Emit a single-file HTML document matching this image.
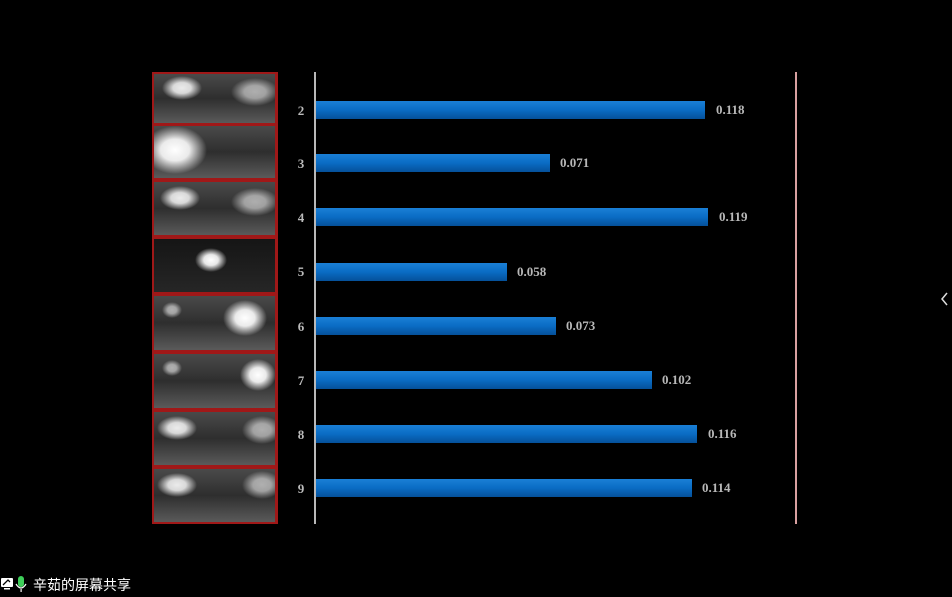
<!DOCTYPE html>
<html><head><meta charset="utf-8"><style>
html,body{margin:0;padding:0;background:#000;width:952px;height:597px;overflow:hidden}
svg{display:block}
</style></head><body>
<svg width="952" height="597" viewBox="0 0 952 597" xmlns="http://www.w3.org/2000/svg">
<defs>
<radialGradient id="blob"><stop offset="0" stop-color="#fff" stop-opacity="1"/><stop offset="0.45" stop-color="#fff" stop-opacity="0.9"/><stop offset="1" stop-color="#fff" stop-opacity="0"/></radialGradient>
<linearGradient id="bar" x1="0" y1="0" x2="0" y2="1"><stop offset="0" stop-color="#1a7fd6"/><stop offset="0.5" stop-color="#0a6cc4"/><stop offset="1" stop-color="#05509a"/></linearGradient>
<linearGradient id="fr" x1="0" y1="0" x2="0" y2="1"><stop offset="0" stop-color="#4a4a4a"/><stop offset="0.5" stop-color="#2e2e2e"/><stop offset="1" stop-color="#5a5a5a"/></linearGradient>
<linearGradient id="frd" x1="0" y1="0" x2="0" y2="1"><stop offset="0" stop-color="#151515"/><stop offset="1" stop-color="#262626"/></linearGradient>
<clipPath id="cp"><rect x="154" y="74" width="121" height="448"/></clipPath>
</defs>
<rect width="952" height="597" fill="#000"/>
<g>
<rect x="152" y="72" width="126" height="452" fill="#a01818"/>
<rect x="154" y="74" width="121" height="49" fill="url(#fr)"/>
<rect x="154" y="126" width="121" height="52" fill="url(#fr)"/>
<rect x="154" y="182" width="121" height="53" fill="url(#fr)"/>
<rect x="154" y="239" width="121" height="53" fill="url(#frd)"/>
<rect x="154" y="296" width="121" height="54" fill="url(#fr)"/>
<rect x="154" y="354" width="121" height="54" fill="url(#fr)"/>
<rect x="154" y="412" width="121" height="53" fill="url(#fr)"/>
<rect x="154" y="469" width="121" height="53" fill="url(#fr)"/>
<g clip-path="url(#cp)">
<ellipse cx="182" cy="88" rx="20" ry="12" fill="url(#blob)" opacity="0.9"/>
<ellipse cx="255" cy="92" rx="24" ry="14" fill="url(#blob)" opacity="0.6"/>
<ellipse cx="175" cy="150" rx="32" ry="24" fill="url(#blob)"/>
<ellipse cx="180" cy="198" rx="20" ry="12" fill="url(#blob)" opacity="0.9"/>
<ellipse cx="255" cy="202" rx="24" ry="14" fill="url(#blob)" opacity="0.6"/>
<ellipse cx="211" cy="260" rx="16" ry="12" fill="url(#blob)"/>
<ellipse cx="245" cy="318" rx="22" ry="18" fill="url(#blob)"/>
<ellipse cx="172" cy="310" rx="10" ry="8" fill="url(#blob)" opacity="0.6"/>
<ellipse cx="258" cy="375" rx="18" ry="16" fill="url(#blob)"/>
<ellipse cx="172" cy="368" rx="10" ry="8" fill="url(#blob)" opacity="0.6"/>
<ellipse cx="177" cy="428" rx="20" ry="12" fill="url(#blob)" opacity="0.9"/>
<ellipse cx="262" cy="430" rx="20" ry="14" fill="url(#blob)" opacity="0.6"/>
<ellipse cx="177" cy="485" rx="20" ry="12" fill="url(#blob)" opacity="0.9"/>
<ellipse cx="262" cy="485" rx="20" ry="14" fill="url(#blob)" opacity="0.6"/>
</g>
</g>
<rect x="314" y="72" width="2" height="452" fill="#b8b8b8"/>
<rect x="795" y="72" width="2" height="452" fill="#d8a0a0"/>
<g font-family="Liberation Serif, serif" font-size="13" fill="#bbbbbb" font-weight="bold">
<text x="301" y="115" text-anchor="middle">2</text>
<text x="301" y="168" text-anchor="middle">3</text>
<text x="301" y="222" text-anchor="middle">4</text>
<text x="301" y="276" text-anchor="middle">5</text>
<text x="301" y="331" text-anchor="middle">6</text>
<text x="301" y="385" text-anchor="middle">7</text>
<text x="301" y="439" text-anchor="middle">8</text>
<text x="301" y="493" text-anchor="middle">9</text>
</g>
<g fill="url(#bar)">
<rect x="316" y="101" width="389" height="18"/>
<rect x="316" y="154" width="234" height="18"/>
<rect x="316" y="208" width="392" height="18"/>
<rect x="316" y="263" width="191" height="18"/>
<rect x="316" y="317" width="240" height="18"/>
<rect x="316" y="371" width="336" height="18"/>
<rect x="316" y="425" width="381" height="18"/>
<rect x="316" y="479" width="376" height="18"/>
</g>
<g font-family="Liberation Serif, serif" font-size="13" fill="#b8b8b8" font-weight="bold">
<text x="716" y="114">0.118</text>
<text x="560" y="167">0.071</text>
<text x="719" y="221">0.119</text>
<text x="517" y="276">0.058</text>
<text x="566" y="330">0.073</text>
<text x="662" y="384">0.102</text>
<text x="708" y="438">0.116</text>
<text x="702" y="492">0.114</text>
</g>
<polyline points="947,293 942,299 947,305" fill="none" stroke="#ddd" stroke-width="1.5"/>
<rect x="1" y="578" width="12" height="9" rx="1" fill="#fff"/>
<path d="M3 585 L8 580 L10 582" stroke="#000" stroke-width="1.3" fill="none"/>
<rect x="4" y="588" width="6" height="1.5" fill="#fff"/>
<rect x="18" y="576" width="6" height="11" rx="3" fill="#3ecf5a"/>
<path d="M16 584 Q21 592 26 584" stroke="#fff" stroke-width="1.2" fill="none"/>
<rect x="20.5" y="589" width="1.2" height="3" fill="#fff"/>
<text x="33" y="590" font-family="Liberation Sans, Noto Sans CJK SC, sans-serif" font-size="14" fill="#fff">辛茹的屏幕共享</text>
</svg>
</body></html>
